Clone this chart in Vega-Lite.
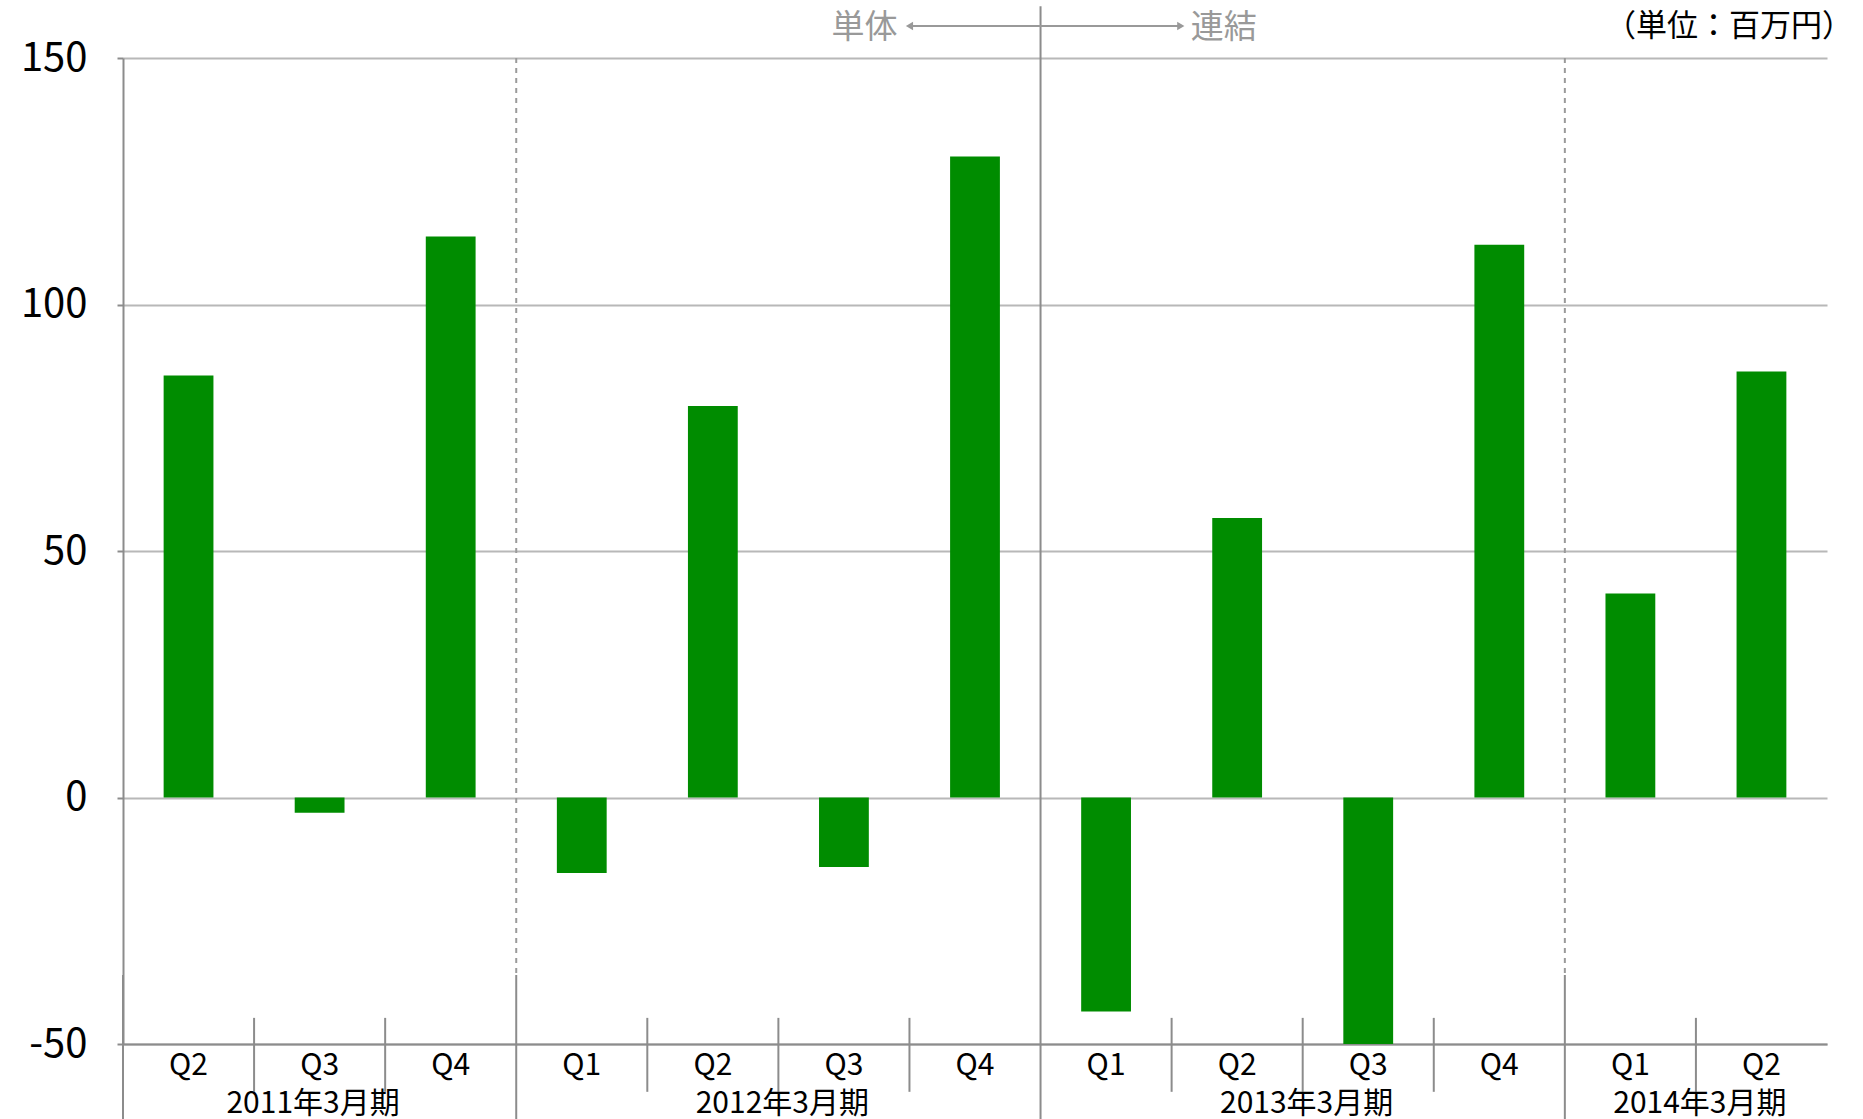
{
  "$schema": "https://vega.github.io/schema/vega-lite/v6.json",
  "width": 1704,
  "height": 986,
  "autosize": {"type": "none"},
  "padding": {"left": 123, "top": 58, "right": 36, "bottom": 75},
  "background": "white",
  "config": {
    "view": {"stroke": null},
    "font": "Noto Sans CJK JP",
    "text": {"font": "Noto Sans CJK JP"}
  },
  "datasets": {
    "bars": [
      {"key": "2011年3月期|Q2", "year": "2011年3月期", "q": "Q2", "value": 85.6},
      {"key": "2011年3月期|Q3", "year": "2011年3月期", "q": "Q3", "value": -3.1},
      {"key": "2011年3月期|Q4", "year": "2011年3月期", "q": "Q4", "value": 113.8},
      {"key": "2012年3月期|Q1", "year": "2012年3月期", "q": "Q1", "value": -15.3},
      {"key": "2012年3月期|Q2", "year": "2012年3月期", "q": "Q2", "value": 79.4},
      {"key": "2012年3月期|Q3", "year": "2012年3月期", "q": "Q3", "value": -14.1},
      {"key": "2012年3月期|Q4", "year": "2012年3月期", "q": "Q4", "value": 130.0},
      {"key": "2013年3月期|Q1", "year": "2013年3月期", "q": "Q1", "value": -43.4},
      {"key": "2013年3月期|Q2", "year": "2013年3月期", "q": "Q2", "value": 56.7},
      {"key": "2013年3月期|Q3", "year": "2013年3月期", "q": "Q3", "value": -50.0},
      {"key": "2013年3月期|Q4", "year": "2013年3月期", "q": "Q4", "value": 112.1},
      {"key": "2014年3月期|Q1", "year": "2014年3月期", "q": "Q1", "value": 41.4},
      {"key": "2014年3月期|Q2", "year": "2014年3月期", "q": "Q2", "value": 86.4}
    ],
    "years": [
      {"year": "2011年3月期", "anchor": "2011年3月期|Q3", "odd": true},
      {"year": "2012年3月期", "anchor": "2012年3月期|Q3", "odd": false},
      {"year": "2013年3月期", "anchor": "2013年3月期|Q3", "odd": false},
      {"year": "2014年3月期", "anchor": "2014年3月期|Q2", "odd": false}
    ],
    "groupSeps": [
      {"key": "2011年3月期|Q2", "dotted": false},
      {"key": "2012年3月期|Q1", "dotted": true},
      {"key": "2014年3月期|Q1", "dotted": true}
    ],
    "quarterSeps": [
      {"key": "2011年3月期|Q3"},
      {"key": "2011年3月期|Q4"},
      {"key": "2012年3月期|Q2"},
      {"key": "2012年3月期|Q3"},
      {"key": "2012年3月期|Q4"},
      {"key": "2013年3月期|Q2"},
      {"key": "2013年3月期|Q3"},
      {"key": "2013年3月期|Q4"},
      {"key": "2014年3月期|Q2"}
    ],
    "divider": [
      {"key": "2013年3月期|Q1", "left": "2012年3月期|Q4", "right": "2013年3月期|Q2", "leftLabel": "単体", "rightLabel": "連結"}
    ],
    "unit": [
      {"key": "2014年3月期|Q2", "label": "（単位：百万円）"}
    ]
  },
  "layer": [
    {
      "data": {"name": "bars"},
      "mark": {"type": "bar", "color": "#008c00", "width": {"band": 0.38}},
      "encoding": {
        "x": {
          "field": "key",
          "type": "nominal",
          "sort": null,
          "scale": {
            "domain": ["2011年3月期|Q2", "2011年3月期|Q3", "2011年3月期|Q4", "2012年3月期|Q1", "2012年3月期|Q2", "2012年3月期|Q3", "2012年3月期|Q4", "2013年3月期|Q1", "2013年3月期|Q2", "2013年3月期|Q3", "2013年3月期|Q4", "2014年3月期|Q1", "2014年3月期|Q2"],
            "paddingInner": 0,
            "paddingOuter": 0
          },
          "axis": {
            "title": null,
            "labelExpr": "split(datum.label, '|')[1]",
            "labelAngle": 0,
            "labelFontSize": 30,
            "labelColor": "#000000",
            "labelPadding": 6,
            "labelBaseline": "top",
            "ticks": false,
            "domain": true,
            "domainColor": "#8c8c8c",
            "domainWidth": 2,
            "grid": false
          }
        },
        "y": {
          "field": "value",
          "type": "quantitative",
          "scale": {"domain": [-50, 150], "nice": false, "zero": false},
          "axis": {
            "title": null,
            "values": [-50, 0, 50, 100, 150],
            "labelExpr": "'' + datum.value",
            "labelFontSize": 40,
            "labelColor": "#000000",
            "labelPadding": 30,
            "tickSize": 6,
            "tickColor": "#8c8c8c",
            "tickWidth": 2,
            "domainColor": "#8c8c8c",
            "domainWidth": 2,
            "grid": true,
            "gridColor": "#b8b8b8",
            "gridWidth": 2
          }
        }
      }
    },
    {
      "data": {"name": "groupSeps"},
      "transform": [{"filter": "datum.dotted"}],
      "mark": {"type": "rule", "color": "#9a9a9a", "strokeWidth": 2, "strokeDash": [5, 5]},
      "encoding": {
        "x": {"field": "key", "type": "nominal", "bandPosition": 0},
        "y": {"datum": 150},
        "y2": {"datum": -36}
      }
    },
    {
      "data": {"name": "groupSeps"},
      "mark": {"type": "rule", "color": "#8c8c8c", "strokeWidth": 2},
      "encoding": {
        "x": {"field": "key", "type": "nominal", "bandPosition": 0},
        "y": {"datum": -36},
        "y2": {"datum": -67}
      }
    },
    {
      "data": {"name": "quarterSeps"},
      "mark": {"type": "rule", "color": "#8c8c8c", "strokeWidth": 2},
      "encoding": {
        "x": {"field": "key", "type": "nominal", "bandPosition": 0},
        "y": {"datum": -44.7},
        "y2": {"datum": -59.7}
      }
    },
    {
      "data": {"name": "divider"},
      "mark": {"type": "rule", "color": "#8c8c8c", "strokeWidth": 2},
      "encoding": {
        "x": {"field": "key", "type": "nominal", "bandPosition": 0},
        "y": {"datum": 160.5},
        "y2": {"datum": -67}
      }
    },
    {
      "data": {"name": "divider"},
      "mark": {"type": "rule", "color": "#999999", "strokeWidth": 2},
      "encoding": {
        "x": {"field": "left", "type": "nominal", "bandPosition": 0},
        "x2": {"field": "right", "bandPosition": 0.07},
        "y": {"datum": 156.5}
      }
    },
    {
      "data": {"name": "divider"},
      "mark": {"type": "point", "shape": "triangle-left", "filled": true, "color": "#999999", "size": 70, "opacity": 1},
      "encoding": {
        "x": {"field": "left", "type": "nominal", "bandPosition": 0},
        "y": {"datum": 156.5}
      }
    },
    {
      "data": {"name": "divider"},
      "mark": {"type": "point", "shape": "triangle-right", "filled": true, "color": "#999999", "size": 70, "opacity": 1},
      "encoding": {
        "x": {"field": "right", "type": "nominal", "bandPosition": 0.07},
        "y": {"datum": 156.5}
      }
    },
    {
      "data": {"name": "divider"},
      "mark": {"type": "text", "align": "right", "baseline": "middle", "dx": -12, "fontSize": 33, "color": "#999999"},
      "encoding": {
        "x": {"field": "left", "type": "nominal", "bandPosition": 0},
        "y": {"datum": 156.1},
        "text": {"field": "leftLabel"}
      }
    },
    {
      "data": {"name": "divider"},
      "mark": {"type": "text", "align": "left", "baseline": "middle", "dx": 10, "fontSize": 33, "color": "#999999"},
      "encoding": {
        "x": {"field": "right", "type": "nominal", "bandPosition": 0.07},
        "y": {"datum": 156.1},
        "text": {"field": "rightLabel"}
      }
    },
    {
      "data": {"name": "unit"},
      "mark": {"type": "text", "align": "right", "baseline": "middle", "dx": 26, "fontSize": 31, "color": "#000000"},
      "encoding": {
        "x": {"field": "key", "type": "nominal", "bandPosition": 1},
        "y": {"datum": 156.3},
        "text": {"field": "label"}
      }
    },
    {
      "data": {"name": "years"},
      "transform": [{"filter": "datum.odd"}],
      "mark": {"type": "text", "align": "center", "baseline": "middle", "fontSize": 30, "color": "#000000"},
      "encoding": {
        "x": {"field": "anchor", "type": "nominal", "bandPosition": 0.45},
        "y": {"datum": -62.1},
        "text": {"field": "year"}
      }
    },
    {
      "data": {"name": "years"},
      "transform": [{"filter": "!datum.odd"}],
      "mark": {"type": "text", "align": "center", "baseline": "middle", "fontSize": 30, "color": "#000000"},
      "encoding": {
        "x": {"field": "anchor", "type": "nominal", "bandPosition": 0.03},
        "y": {"datum": -62.1},
        "text": {"field": "year"}
      }
    }
  ]
}
